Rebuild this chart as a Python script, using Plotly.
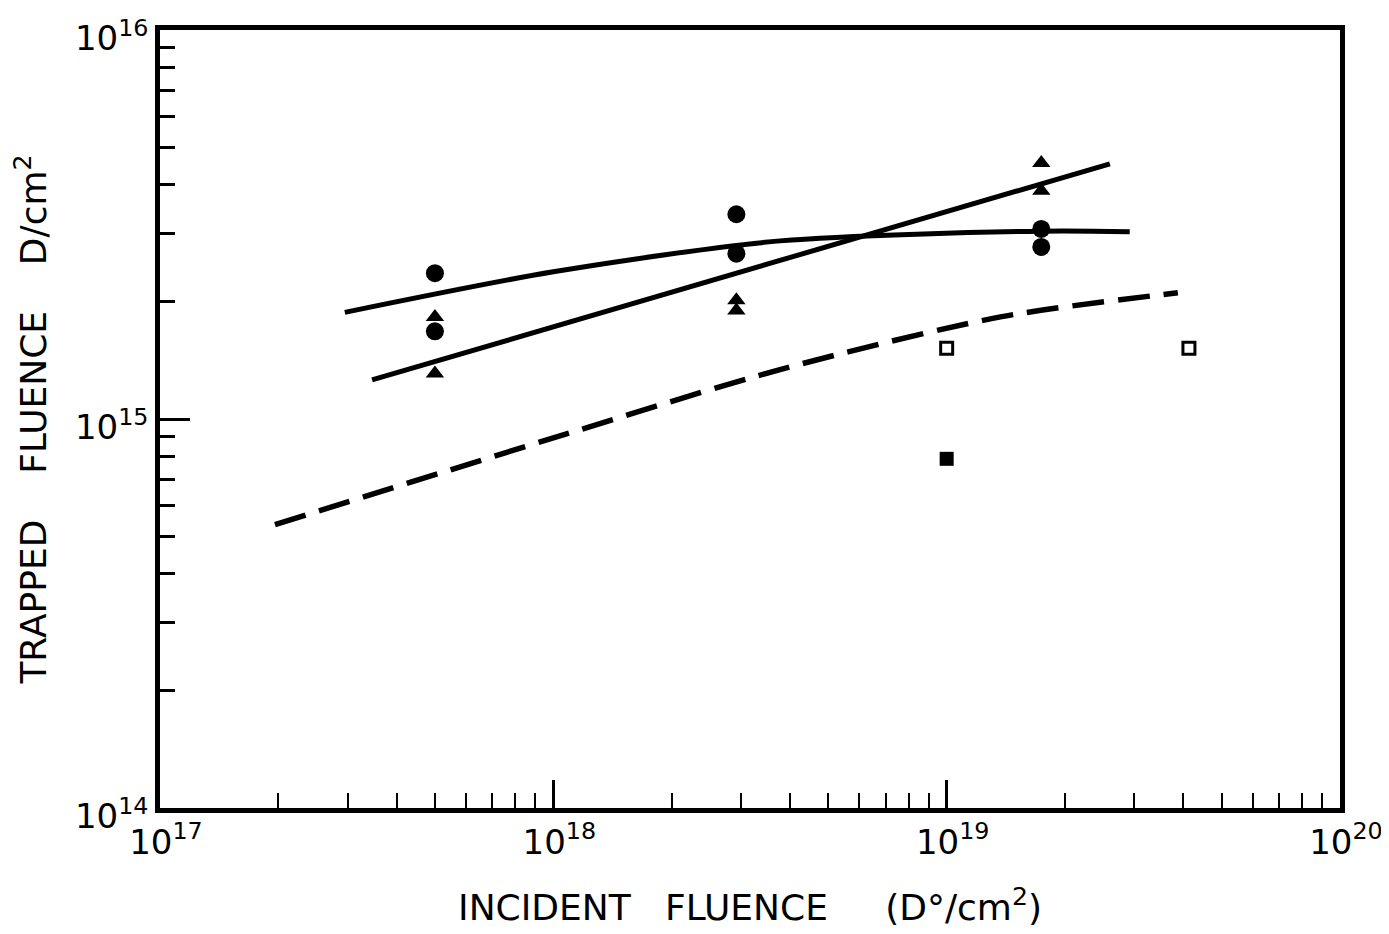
import plotly.graph_objects as go

# ---- data ----
circ_x = [5.0e17, 5.0e17, 2.92e18, 2.92e18, 1.74e19, 1.74e19]
circ_y = [2.37e15, 1.68e15, 3.36e15, 2.66e15, 3.08e15, 2.77e15]

tri_x = [5.0e17, 5.0e17, 2.92e18, 2.92e18, 1.74e19, 1.74e19]
tri_y = [1.83e15, 1.31e15, 2.02e15, 1.90e15, 4.55e15, 3.86e15]

open_sq_x = [1.0e19, 4.13e19]
open_sq_y = [1.52e15, 1.52e15]

fill_sq_x = [1.0e19]
fill_sq_y = [7.9e14]

curveA_x = [2.95e17, 1.0e18, 3.77e18, 1.74e19, 2.92e19]
curveA_y = [1.88e15, 2.39e15, 2.87e15, 3.04e15, 3.03e15]

lineB_x = [3.46e17, 2.60e19]
lineB_y = [1.26e15, 4.53e15]

dash_x = [1.96e17, 1.0e18, 3.77e18, 1.37e19, 3.87e19]
dash_y = [5.35e14, 8.94e14, 1.34e15, 1.83e15, 2.11e15]

x_major = [1e17, 1e18, 1e19, 1e20]
x_major_text = ["10<sup>17</sup>", "10<sup>18</sup>", "10<sup>19</sup>", "10<sup>20</sup>"]
y_major = [1e14, 1e15, 1e16]
y_major_text = ["10<sup>14</sup>", "10<sup>15</sup>", "10<sup>16</sup>"]

x_minor = [k * 10.0 ** d for d in (17, 18, 19) for k in range(2, 10)]
y_minor = [k * 10.0 ** d for d in (14, 15) for k in range(2, 10)]

FONT = "DejaVu Sans, sans-serif"
BLACK = "#000000"

fig = go.Figure()

fig.add_trace(go.Scatter(x=curveA_x, y=curveA_y, mode="lines",
                         line=dict(color=BLACK, width=5, shape="spline", smoothing=0.8)))
fig.add_trace(go.Scatter(x=lineB_x, y=lineB_y, mode="lines",
                         line=dict(color=BLACK, width=5)))
fig.add_trace(go.Scatter(x=dash_x, y=dash_y, mode="lines",
                         line=dict(color=BLACK, width=5.5, dash="32px,14px",
                                   shape="spline", smoothing=0.8)))
fig.add_trace(go.Scatter(x=circ_x, y=circ_y, mode="markers",
                         marker=dict(symbol="circle", size=18, color=BLACK)))
fig.add_trace(go.Scatter(x=tri_x, y=tri_y, mode="markers",
                         marker=dict(symbol="triangle-up", size=16, color=BLACK)))
fig.add_trace(go.Scatter(x=open_sq_x, y=open_sq_y, mode="markers",
                         marker=dict(symbol="square-open", size=12, color=BLACK,
                                     line=dict(width=3, color=BLACK))))
fig.add_trace(go.Scatter(x=fill_sq_x, y=fill_sq_y, mode="markers",
                         marker=dict(symbol="square", size=14, color=BLACK)))

NB = "\u00a0"
xtitle = "INCIDENT" + NB * 3 + "FLUENCE" + NB * 5 + "(D°/cm<sup>2</sup>)"
ytitle = "TRAPPED" + NB * 4 + "FLUENCE" + NB * 4 + "D/cm<sup>2</sup>"

fig.update_layout(
    width=1389, height=934,
    paper_bgcolor="white", plot_bgcolor="white",
    margin=dict(l=152, r=57, t=22, b=134),
    showlegend=False,
    font=dict(family=FONT, color=BLACK),
    xaxis=dict(
        type="log", range=[17, 20], automargin=False,
        showgrid=False, zeroline=False,
        showline=True, linewidth=4.5, linecolor=BLACK, mirror=True,
        tickvals=x_major, ticktext=x_major_text,
        ticks="inside", ticklen=28, tickwidth=2.5, tickcolor=BLACK,
        tickfont=dict(size=34, family=FONT),
        ticklabelshift=6, ticklabeloverflow="allow",
        minor=dict(tickvals=x_minor, ticks="inside", ticklen=15, tickwidth=2, tickcolor=BLACK,
                   showgrid=False),
        title=dict(text=xtitle, font=dict(size=36, family=FONT), standoff=36),
    ),
    yaxis=dict(
        type="log", range=[14, 16], automargin=False,
        showgrid=False, zeroline=False,
        showline=True, linewidth=4.5, linecolor=BLACK, mirror=True,
        tickvals=y_major, ticktext=y_major_text,
        ticks="inside", ticklen=30, tickwidth=2.5, tickcolor=BLACK,
        tickfont=dict(size=34, family=FONT),
        ticklabelshift=8, ticklabeloverflow="allow",
        minor=dict(tickvals=y_minor, ticks="inside", ticklen=15, tickwidth=2.5, tickcolor=BLACK,
                   showgrid=False),
        title=dict(text=ytitle, font=dict(size=36, family=FONT), standoff=24),
    ),
    xaxis2=dict(
        type="log", range=[17, 20], overlaying="x", side="top", automargin=False,
        showgrid=False, zeroline=False, showline=False,
        tickvals=[8e17, 4.55e18], ticks="inside", ticklen=28, tickwidth=2.5,
        tickcolor=BLACK, showticklabels=False,
    ),
    yaxis2=dict(
        type="log", range=[14, 16], overlaying="y", side="right", automargin=False,
        showgrid=False, zeroline=False, showline=False,
        tickvals=[1e15], ticks="inside", ticklen=30, tickwidth=2.5,
        tickcolor=BLACK, showticklabels=False,
    ),
)

fig.write_html("out.html")
